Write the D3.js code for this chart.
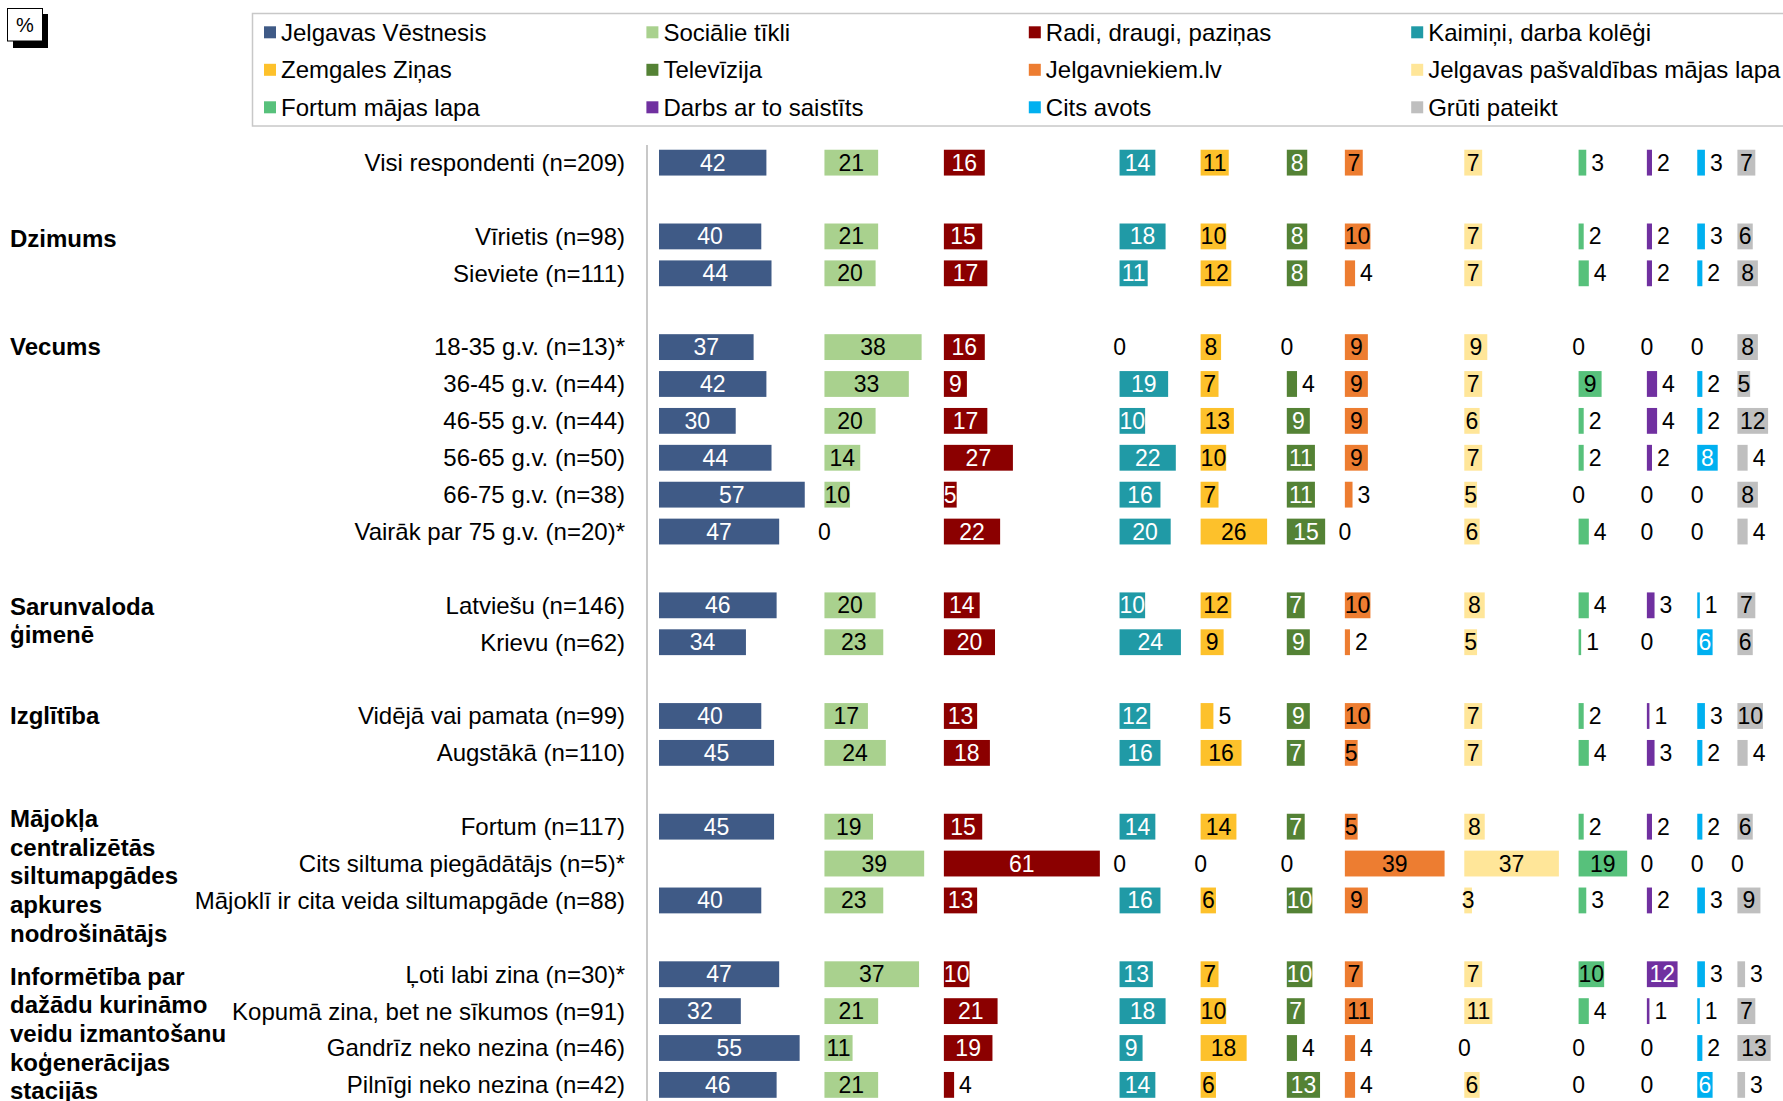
<!DOCTYPE html>
<html>
<head>
<meta charset="utf-8">
<script src="https://cdn.jsdelivr.net/npm/d3@7"></script>
<style>
  body { margin: 0; background: #fff; }
  svg text { font-family: "Liberation Sans", Arial, sans-serif; }
</style>
</head>
<body>
<div id="chart"></div>
<script>
// series (legend order, row by row)
const seriesNames = [
  "Jelgavas Vēstnesis", "Sociālie tīkli", "Radi, draugi, paziņas", "Kaimiņi, darba kolēģi",
  "Zemgales Ziņas", "Televīzija", "Jelgavniekiem.lv", "Jelgavas pašvaldības mājas lapa",
  "Fortum mājas lapa", "Darbs ar to saistīts", "Cits avots", "Grūti pateikt"
];
const seriesColors = [
  "#3f5a86", "#a9d18e", "#8b0000", "#209aa6",
  "#fdc12b", "#548235", "#ed7d31", "#ffe699",
  "#57c17b", "#7030a0", "#00b0f0", "#bfbfbf"
];
const labelColors = [
  "#fff", "#000", "#fff", "#fff",
  "#000", "#fff", "#000", "#000",
  "#000", "#fff", "#fff", "#000"
];
// smallest value whose label sits inside the bar
const insideFrom = [5, 5, 5, 5, 6, 5, 5, 3, 5, 5, 5, 5];

// row labels, top to bottom
const rowLabels = [
  "Visi respondenti (n=209)",
  "Vīrietis (n=98)", "Sieviete (n=111)",
  "18-35 g.v. (n=13)*", "36-45 g.v. (n=44)", "46-55 g.v. (n=44)", "56-65 g.v. (n=50)",
  "66-75 g.v. (n=38)", "Vairāk par 75 g.v. (n=20)*",
  "Latviešu (n=146)", "Krievu (n=62)",
  "Vidējā vai pamata (n=99)", "Augstākā (n=110)",
  "Fortum (n=117)", "Cits siltuma piegādātājs (n=5)*", "Mājoklī ir cita veida siltumapgāde (n=88)",
  "Ļoti labi zina (n=30)*", "Kopumā zina, bet ne sīkumos (n=91)", "Gandrīz neko nezina (n=46)", "Pilnīgi neko nezina (n=42)"
];
const groupSizes = [1, 2, 6, 2, 2, 3, 4];
const groupLabels = [
  [],
  ["Dzimums"],
  ["Vecums"],
  ["Sarunvaloda", "ģimenē"],
  ["Izglītība"],
  ["Mājokļa", "centralizētās", "siltumapgādes", "apkures", "nodrošinātājs"],
  ["Informētība par", "dažādu kurināmo", "veidu izmantošanu", "koģenerācijas", "stacijās"]
];
const groupLabelDy = [0, 2, 0, 1, 0, -8, 2];

// values in %, one entry per row
const jelgavasVestnesis = [42, 40, 44, 37, 42, 30, 44, 57, 47, 46, 34, 40, 45, 45, null, 40, 47, 32, 55, 46];
const socialieTikli     = [21, 21, 20, 38, 33, 20, 14, 10, 0, 20, 23, 17, 24, 19, 39, 23, 37, 21, 11, 21];
const radiDraugi        = [16, 15, 17, 16, 9, 17, 27, 5, 22, 14, 20, 13, 18, 15, 61, 13, 10, 21, 19, 4];
const kaimini           = [14, 18, 11, 0, 19, 10, 22, 16, 20, 10, 24, 12, 16, 14, 0, 16, 13, 18, 9, 14];
const zemgalesZinas     = [11, 10, 12, 8, 7, 13, 10, 7, 26, 12, 9, 5, 16, 14, 0, 6, 7, 10, 18, 6];
const televizija        = [8, 8, 8, 0, 4, 9, 11, 11, 15, 7, 9, 9, 7, 7, 0, 10, 10, 7, 4, 13];
const jelgavniekiem     = [7, 10, 4, 9, 9, 9, 9, 3, 0, 10, 2, 10, 5, 5, 39, 9, 7, 11, 4, 4];
const pasvaldibasLapa   = [7, 7, 7, 9, 7, 6, 7, 5, 6, 8, 5, 7, 7, 8, 37, 3, 7, 11, 0, 6];
const fortumLapa        = [3, 2, 4, 0, 9, 2, 2, 0, 4, 4, 1, 2, 4, 2, 19, 3, 10, 4, 0, 0];
const darbs             = [2, 2, 2, 0, 4, 4, 2, 0, 0, 3, 0, 1, 3, 2, 0, 2, 12, 1, 0, 0];
const citsAvots         = [3, 3, 2, 0, 2, 2, 8, 0, 0, 1, 6, 3, 2, 2, 0, 3, 3, 1, 2, 6];
const grutiPateikt      = [7, 6, 8, 8, 5, 12, 4, 8, 4, 7, 6, 10, 4, 6, 0, 9, 3, 7, 13, 3];

const seriesValues = [
  jelgavasVestnesis, socialieTikli, radiDraugi, kaimini,
  zemgalesZinas, televizija, jelgavniekiem, pasvaldibasLapa,
  fortumLapa, darbs, citsAvots, grutiPateikt
];

const width = 1783, height = 1101;
const svg = d3.select("#chart").append("svg")
  .attr("width", width)
  .attr("height", height);

// row slots: one empty slot between groups
const slotOf = [];
let slot = 0;
groupSizes.forEach(n => {
  for (let i = 0; i < n; i++) slotOf.push(slot++);
  slot++;
});
const nSlots = slot;

const step = 36.89;
const y = d3.scaleBand()
  .domain(d3.range(nSlots))
  .range([144.2, 144.2 + step * nSlots])
  .paddingInner(0.3)
  .paddingOuter(0.15);
const rowCenter = i => y(slotOf[i]) + y.bandwidth() / 2;

// value scale, each series gets a column as wide as its max value
const x = d3.scaleLinear().domain([0, 100]).range([0, 255.7]);
const colGap = 19.7;
const colStart = [];
let cx = 659;
seriesValues.forEach(vals => {
  colStart.push(cx);
  cx += x(d3.max(vals)) + colGap;
});

// % box
svg.append("rect").attr("x", 13).attr("y", 14).attr("width", 35).attr("height", 34).attr("fill", "#000");
svg.append("rect").attr("x", 7.5).attr("y", 8.5).attr("width", 35).attr("height", 32.5)
  .attr("fill", "#fff").attr("stroke", "#000").attr("stroke-width", 1);
svg.append("text").attr("x", 25).attr("y", 25).attr("dy", "0.35em")
  .attr("text-anchor", "middle").attr("font-size", 20).text("%");

// legend
const legend = svg.append("g");
legend.append("rect")
  .attr("x", 252.5).attr("y", 13.5).attr("width", 1540).attr("height", 112.5)
  .attr("fill", "none").attr("stroke", "#c8c8c8").attr("stroke-width", 1.5);
seriesNames.forEach((name, i) => {
  const lx = 264 + 382.4 * (i % 4);
  const ly = 32.3 + 37.5 * Math.floor(i / 4);
  legend.append("rect").attr("x", lx).attr("y", ly - 6).attr("width", 12).attr("height", 12)
    .attr("fill", seriesColors[i]);
  legend.append("text").attr("x", lx + 17).attr("y", ly).attr("dy", "0.35em")
    .attr("font-size", 24).attr("fill", "#000").text(name);
});

// axis line
svg.append("line")
  .attr("x1", 647).attr("x2", 647).attr("y1", 145).attr("y2", height)
  .attr("stroke", "#c8c8c8").attr("stroke-width", 2);

// row labels
svg.append("g").selectAll("text")
  .data(rowLabels)
  .join("text")
  .attr("x", 625)
  .attr("y", (d, i) => rowCenter(i))
  .attr("dy", "0.35em")
  .attr("text-anchor", "end")
  .attr("font-size", 24)
  .text(d => d);

// group labels
let rowIdx = 0;
groupLabels.forEach((lines, g) => {
  const top = rowCenter(rowIdx) + groupLabelDy[g];
  lines.forEach((line, j) => {
    svg.append("text")
      .attr("x", 10).attr("y", top + j * 28.7).attr("dy", "0.35em")
      .attr("font-size", 24).attr("font-weight", "bold")
      .text(line);
  });
  rowIdx += groupSizes[g];
});

// bars and value labels
seriesValues.forEach((vals, s) => {
  const g = svg.append("g");
  const rows = vals.map((v, i) => ({ v, i })).filter(d => d.v !== null);
  const inside = v => v >= insideFrom[s];

  g.selectAll("rect")
    .data(rows.filter(d => d.v > 0))
    .join("rect")
    .attr("x", colStart[s])
    .attr("y", d => y(slotOf[d.i]))
    .attr("width", d => x(d.v))
    .attr("height", y.bandwidth())
    .attr("fill", seriesColors[s]);

  g.selectAll("text")
    .data(rows)
    .join("text")
    .attr("x", d => {
      if (d.v === 0) return colStart[s];
      if (!inside(d.v)) return colStart[s] + x(d.v) + 5;
      return colStart[s] + x(d.v) / 2;
    })
    .attr("y", d => rowCenter(d.i))
    .attr("dy", "0.35em")
    .attr("text-anchor", d => (d.v > 0 && !inside(d.v)) ? "start" : "middle")
    .attr("font-size", 23)
    .attr("fill", d => inside(d.v) ? labelColors[s] : "#000")
    .text(d => d.v);
});
</script>
</body>
</html>
